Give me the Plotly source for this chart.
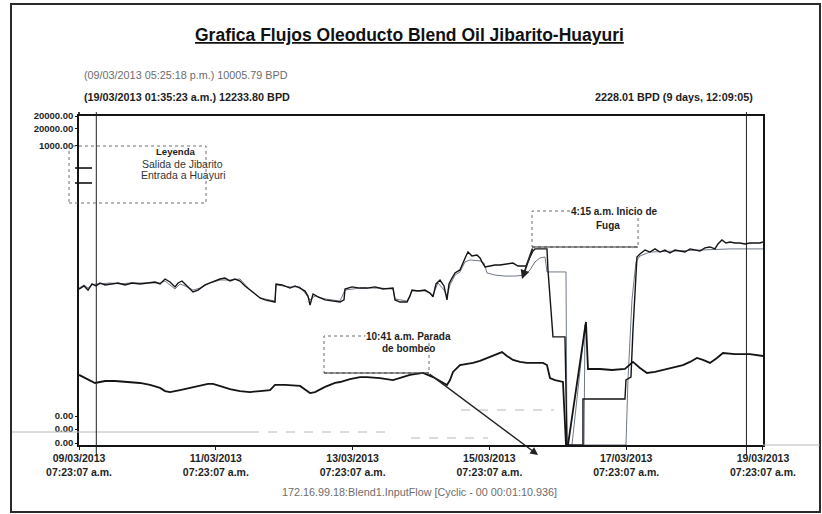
import pandas as pd
import plotly.graph_objects as go

# ---------------- data ----------------
start = pd.Timestamp("2013-03-09 07:23:07")

# Salida de Jibarito (dark upper trace) : hours since start, BPD
hours_A = [0, 1.75, 3.16, 4.56, 5.96, 7.37, 9.12, 10.88, 13.68, 16.14, 18.60, 21.40, 24.21, 26.67, 28.42,
           30.18, 31.93, 33.68, 34.74, 36.14, 37.19, 38.95, 40.00, 41.75, 44.21, 45.96, 47.72, 49.47, 51.23,
           52.98, 54.74, 56.49, 58.25, 60.00, 61.75, 63.51, 65.26, 67.02, 68.77, 69.12, 71.23, 74.04, 75.79,
           77.54, 79.30, 80.35, 81.05, 82.11, 83.86, 86.32, 89.12, 91.58, 92.98, 93.33, 95.79, 98.60, 101.05,
           103.86, 106.67, 110.18, 110.88, 112.63, 115.09, 116.14, 116.84, 118.95, 121.40, 123.16, 124.21,
           125.26, 126.67, 128.07, 129.12, 129.82, 130.88, 131.93, 133.68, 134.74, 135.79, 136.49, 137.89,
           139.65, 140.70, 141.40, 142.46, 144.21, 145.96, 147.72, 149.47, 151.23, 152.28, 154.04, 155.79,
           156.84, 158.25, 159.30, 160.00, 161.75, 164.21, 164.56, 165.26, 165.96, 166.32, 168.77, 170.53,
           171.23, 176.84, 176.84, 182.81, 188.07, 191.58, 191.93, 193.68, 194.39, 195.09, 195.79, 196.84,
           198.60, 200.35, 202.11, 203.86, 205.61, 207.37, 209.12, 210.88, 212.63, 214.39, 216.14, 217.89,
           219.65, 221.40, 223.16, 224.21, 225.61, 227.02, 228.42, 230.18, 231.93, 233.68, 235.44, 237.19,
           238.95, 240.00]
bpd_A = [9480, 9670, 9420, 9790, 9670, 9850, 9730, 9790, 9850, 9730, 9850, 9790, 9850, 9910, 9790,
         10090, 9910, 9610, 9850, 9970, 9790, 9480, 9300, 9420, 9730, 9850, 9970, 10090, 10150,
         9970, 10090, 9970, 9670, 9420, 9180, 8940, 8820, 8750, 8690, 9790, 9730, 9540, 9670,
         9540, 9360, 9060, 8510, 9180, 9000, 8820, 8750, 8690, 8820, 9480, 9610, 9540, 9540,
         9610, 9480, 9540, 8820, 8690, 8690, 9060, 9420, 9360, 9420, 9240, 9000,
         9790, 10030, 9670, 8820, 9790, 10150, 10460, 10640, 11130, 11490, 11730, 11490,
         11550, 11370, 11130, 10820, 10880, 10940, 10940, 11000, 11060, 11060, 10880, 10880,
         10880, 11430, 11790, 11920, 11920, 11920, 10640, 8820, 7420, 6570, 6570, 6570,
         0, 0, 2800, 2800, 2800, 2800, 3950, 4130, 6990, 9420, 11430, 11610,
         11850, 11730, 11920, 11730, 11850, 11670, 11850, 11790, 11730, 11920, 11850, 11790,
         11980, 12040, 11920, 12220, 12460, 12280, 12340, 12280, 12280, 12220, 12280, 12280,
         12280, 12340]

# second upper trace (lighter)
hours_B = [0, 1.75, 3.16, 4.56, 5.96, 7.37, 10.88, 14.39, 17.89, 21.40, 24.91, 28.42, 30.18, 31.93, 33.68,
           35.44, 37.19, 40.00, 42.46, 45.96, 49.47, 52.98, 56.49, 60.00, 63.51, 68.77, 69.12, 74.04, 77.54,
           79.30, 81.05, 82.81, 86.32, 91.58, 93.33, 98.60, 105.61, 110.18, 110.88, 115.09, 116.84, 121.40,
           124.21, 125.96, 128.07, 129.12, 130.18, 131.93, 133.68, 135.44, 137.19, 140.70, 142.11, 143.16,
           145.96, 149.47, 152.98, 156.49, 158.25, 160.00, 161.75, 163.51, 164.21, 170.88, 171.23, 172.98,
           177.54, 177.19, 191.93, 192.63, 194.04, 195.44, 196.84, 200.35, 207.37, 217.89, 228.42, 240.00]
bpd_B = [9540, 9730, 9540, 9730, 9790, 9790, 9850, 9790, 9850, 9850, 9850, 9850, 9970, 9730, 9480,
         9790, 9670, 9420, 9540, 9850, 10030, 10030, 10090, 9420, 8940, 8750, 9730, 9610, 9610,
         9240, 8820, 9060, 8880, 8750, 9420, 9540, 9540, 9480, 8880, 8750, 9360, 9360,
         9120, 9850, 9420, 9060, 9730, 10330, 10520, 11130, 11250, 11190, 11060, 10460,
         10330, 10270, 10270, 10330, 10640, 11130, 11370, 11430, 10520, 10520, 0, 0,
         7300, 0, 0, 3950, 8820, 11130, 11490, 11730, 11790, 11850, 11920, 11920]

# Entrada a Huayuri (lower trace)
hours_C = [0, 2.11, 3.86, 5.61, 7.37, 9.12, 12.63, 17.89, 21.40, 24.91, 28.42, 30.18, 31.93, 35.44, 38.95,
           42.46, 45.26, 47.02, 49.47, 52.98, 56.49, 60.00, 63.51, 67.02, 68.77, 72.28, 77.54, 79.30, 81.05,
           82.81, 86.32, 89.82, 91.58, 95.09, 98.60, 101.05, 105.61, 110.18, 112.63, 116.14, 120.70, 124.21,
           126.67, 129.12, 130.18, 131.23, 133.68, 136.14, 138.25, 140.70, 143.16, 145.96, 148.42, 150.18,
           152.28, 154.74, 157.19, 160.00, 162.81, 164.21, 165.26, 167.02, 169.82, 170.88, 171.58, 177.89,
           178.60, 182.81, 187.02, 191.58, 192.63, 194.39, 196.84, 199.30, 202.11, 204.91, 208.42, 211.93,
           214.39, 216.84, 218.95, 221.40, 223.86, 225.96, 230.18, 235.44, 240.00]
bpd_C = [4260, 4070, 3890, 3770, 3830, 3890, 3890, 3830, 3770, 3650, 3470, 3280, 3220, 3340, 3470,
         3590, 3710, 3710, 3590, 3400, 3280, 3220, 3280, 3340, 3650, 3650, 3590, 3400, 3160,
         3220, 3530, 3770, 3830, 4010, 4130, 4130, 4070, 3950, 4070, 4260, 4380, 4130,
         3890, 3650, 3950, 4440, 4860, 4920, 4990, 5110, 5290, 5470, 5650, 5410,
         5170, 5050, 4990, 4990, 4990, 4860, 4070, 3950, 3830, 0, 0, 7480,
         4620, 4620, 4560, 4620, 4800, 5050, 4680, 4380, 4440, 4560, 4680, 4860,
         5050, 5290, 5170, 4990, 5290, 5590, 5530, 5530, 5410]

xtick_days = [0, 2, 4, 6, 8, 10]
xtick_text = ["09/03/2013<br>07:23:07 a.m.", "11/03/2013<br>07:23:07 a.m.", "13/03/2013<br>07:23:07 a.m.",
              "15/03/2013<br>07:23:07 a.m.", "17/03/2013<br>07:23:07 a.m.", "19/03/2013<br>07:23:07 a.m."]
ytick_vals = [19990, 19240, 18180, 1760, 970, 120]
ytick_text = ["20000.00", "20000.00", "1000.00", "0.00", "0.00", "0.00"]

cursor_left = "2013-03-09 13:26:18"
cursor_right = "2013-03-19 01:35:23"

title_txt = "Grafica Flujos Oleoducto Blend Oil Jibarito-Huayuri"
hdr1 = "(09/03/2013 05:25:18 p.m.) 10005.79 BPD"
hdr2 = "(19/03/2013 01:35:23 a.m.) 12233.80 BPD"
hdr3 = "2228.01 BPD (9 days, 12:09:05)"
caption = "172.16.99.18:Blend1.InputFlow [Cyclic - 00 00:01:10.936]"

# ---------------- figure ----------------
FONT = "Liberation Sans"

def tx(h):
    return start + pd.to_timedelta(pd.Series(h, dtype=float), unit="h")

fig = go.Figure()
fig.add_trace(go.Scatter(x=tx(hours_B), y=bpd_B, mode="lines", line=dict(color="#6f7888", width=1),
                         name="B"))
fig.add_trace(go.Scatter(x=tx(hours_A), y=bpd_A, mode="lines", line=dict(color="#141414", width=1.4),
                         name="Salida de Jibarito"))
fig.add_trace(go.Scatter(x=tx(hours_C), y=bpd_C, mode="lines", line=dict(color="#141414", width=1.8),
                         name="Entrada a Huayuri"))

xr = [start - pd.Timedelta(minutes=1), start + pd.Timedelta(days=10, minutes=1)]
fig.update_xaxes(type="date", range=xr,
                 tickvals=[start + pd.Timedelta(days=d) for d in xtick_days], ticktext=xtick_text,
                 showline=True, linecolor="#151515", linewidth=1.6, mirror=True,
                 ticks="outside", ticklen=3, tickcolor="#151515", showgrid=False, zeroline=False,
                 tickfont=dict(family=FONT, size=10.5, color="#1e1e1e", weight="bold"))
fig.update_yaxes(range=[0, 20000], tickvals=ytick_vals, ticktext=ytick_text,
                 showline=True, linecolor="#151515", linewidth=1.6, mirror=True,
                 ticks="outside", ticklen=2, tickcolor="#151515", showgrid=False, zeroline=False,
                 tickfont=dict(family=FONT, size=9.5, color="#1e1e1e", weight="bold"))

shapes = []
# outer frame
shapes.append(dict(type="rect", xref="paper", yref="paper", x0=-0.0994, x1=1.0833, y0=-0.2036, y1=1.3404,
                   line=dict(color="#2a2a2a", width=2)))
# faint scan lines
for (x0, x1, y, dash) in [(-0.098, 0.25, 0.0395, "solid"), (0.25, 0.45, 0.0395, "dash"),
                          (0.5585, 0.6944, 0.1064, "dash"), (0.4854, 0.598, 0.0213, "dash"),
                          (1.0, 1.083, 0.0, "solid")]:
    shapes.append(dict(type="line", xref="paper", yref="paper", x0=x0, x1=x1, y0=y, y1=y,
                       line=dict(color="#b8b8b8", width=1, dash=dash)))
# cursors
for c in [cursor_left, cursor_right]:
    shapes.append(dict(type="line", xref="x", yref="paper", x0=c, x1=c, y0=-0.034, y1=1.012,
                       line=dict(color="#202020", width=1)))
shapes.append(dict(type="line", xref="paper", yref="paper", x0=0, x1=0, y0=1.0, y1=1.012,
                   line=dict(color="#151515", width=1.6)))
# legend box
shapes.append(dict(type="rect", xref="paper", yref="paper", x0=-0.0146, x1=0.1857, y0=0.7356, y1=0.9088,
                   line=dict(color="#707070", width=1, dash="dot")))
for y in [0.8419, 0.7964]:
    shapes.append(dict(type="line", xref="paper", yref="paper", x0=-0.0058, x1=0.0190, y0=y, y1=y,
                       line=dict(color="#111", width=1.6)))
# annotation boxes
for (x0, x1, y0, y1) in [(0.6623, 0.8173, 0.6018, 0.7112), (0.3582, 0.5117, 0.2188, 0.3313)]:
    shapes.append(dict(type="rect", xref="paper", yref="paper", x0=x0, x1=x1, y0=y0, y1=y1,
                       line=dict(color="#6a6a6a", width=1, dash="dot")))
    shapes.append(dict(type="line", xref="paper", yref="paper", x0=x0, x1=x1, y0=y0, y1=y0,
                       line=dict(color="#333", width=1.2)))

ann = []
def T(text, x, y, size, color="#1e1e1e", anchor="left", weight="normal", family=FONT, bg=None):
    d = dict(text=text, x=x, y=y, xref="paper", yref="paper", showarrow=False, xanchor=anchor,
             yanchor="middle", font=dict(family=family, size=size, color=color, weight=weight))
    if bg:
        d["bgcolor"] = bg
        d["borderpad"] = 0
    ann.append(d)

T("<u>" + title_txt + "</u>", 0.4839, 1.2462, 17.5, color="#111", anchor="center", weight="bold")
T(hdr1, 0.0044, 1.1246, 10.8, color="#6c6c6c")
T(hdr2, 0.0044, 1.0578, 10.8, color="#1e1e1e", weight="bold")
T(hdr3, 0.9883, 1.0578, 10.8, color="#1e1e1e", anchor="right", weight="bold")
T(caption, 0.4985, -0.1429, 10.8, color="#6c6c6c", anchor="center")
T("Leyenda", 0.1418, 0.8906, 9.6, anchor="center", weight="bold")
T("Salida de Jibarito", 0.0892, 0.8541, 10.5, color="#333")
T("Entrada a Huayuri", 0.0877, 0.8207, 10.5, color="#333")
T("4:15 a.m. Inicio de", 0.7178, 0.7112, 10, anchor="left", weight="bold", bg="white")
T("Fuga", 0.7734, 0.6657, 10, anchor="center", weight="bold")
T("10:41 a.m. Parada", 0.4181, 0.3313, 10, anchor="left", weight="bold", bg="white")
T("de bombeo", 0.4810, 0.2918, 10, anchor="center", weight="bold")

ann.append(dict(text="", x=0.6711, y=-0.0304, xref="paper", yref="paper", showarrow=True,
                ax=-110, ay=-82, arrowhead=2, arrowsize=1.2, arrowwidth=1.3, arrowcolor="#222"))
ann.append(dict(text="", x=0.6477, y=0.5046, xref="paper", yref="paper", showarrow=True,
                ax=11, ay=-32, arrowhead=2, arrowsize=1, arrowwidth=1.8, arrowcolor="#222"))

fig.update_layout(width=822, height=514, autosize=False,
                  margin=dict(l=79, r=59, t=116, b=69, pad=0),
                  paper_bgcolor="white", plot_bgcolor="white", showlegend=False, hovermode=False,
                  shapes=shapes, annotations=ann)

fig.write_html("out.html", config={"displayModeBar": False},
               post_script="document.body.style.margin='0px';")
